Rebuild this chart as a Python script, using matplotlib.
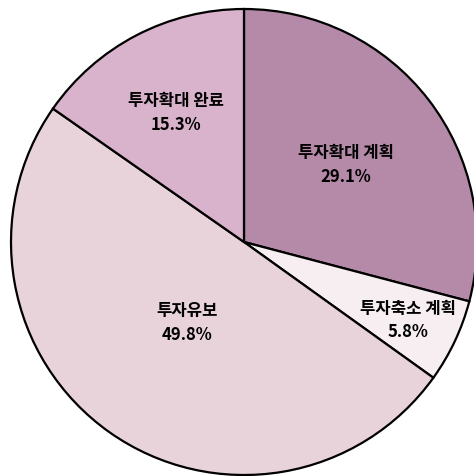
import numpy as np
import matplotlib.pyplot as plt

plt.rcParams['font.family'] = ['Noto Sans CJK KR', 'DejaVu Sans']

labels = ['투자확대 계획', '투자축소 계획', '투자유보', '투자확대 완료']
shares = [29.1, 5.8, 49.8, 15.3]
colors = ['#b48aa8', '#f7eef1', '#e9d3db', '#d9b3cc']
label_dist = [0.55, 0.78, 0.42, 0.63]

fig = plt.figure(figsize=(4.74, 4.77), dpi=100)
ax = fig.add_axes([0, 0, 1, 1])

cx, cy, r = 244, 477 - 243, 233
wedges, _ = ax.pie(shares, colors=colors, startangle=90, counterclock=False,
                   center=(cx, cy), radius=r,
                   wedgeprops=dict(edgecolor='black', linewidth=1.6))

for w, lab, val, d in zip(wedges, labels, shares, label_dist):
    ang = np.deg2rad((w.theta1 + w.theta2) / 2)
    x = cx + d * r * np.cos(ang)
    y = cy + d * r * np.sin(ang)
    ax.text(x, y, '%s\n%.1f%%' % (lab, val), ha='center', va='center',
            fontsize=12, fontweight='black', linespacing=1.4)

ax.set_xlim(0, 474)
ax.set_ylim(0, 477)
ax.set_aspect('equal')
ax.axis('off')

fig.savefig('out.png', dpi=100, facecolor='white')
